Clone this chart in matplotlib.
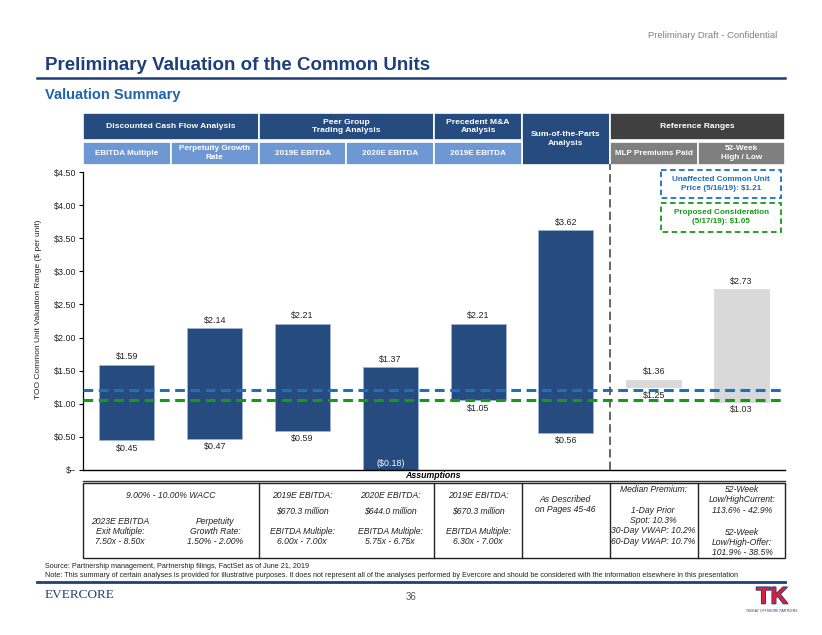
import matplotlib
matplotlib.use("Agg")
import matplotlib.pyplot as plt
import matplotlib.patheffects as pe
from matplotlib.patches import Rectangle

plt.rcParams['font.family'] = ['Liberation Sans', 'DejaVu Sans']
plt.rcParams['lines.scale_dashes'] = False

# data
categories = ['EBITDA Multiple', 'Perpetuity Growth Rate', '2019E EBITDA', '2020E EBITDA',
              '2019E EBITDA (Precedent)', 'Sum-of-the-Parts', 'MLP Premiums Paid', '52-Week High / Low']
lows = [0.45, 0.47, 0.59, -0.18, 1.05, 0.56, 1.25, 1.03]
highs = [1.59, 2.14, 2.21, 1.37, 2.21, 3.62, 1.36, 2.73]
is_reference = [False, False, False, False, False, False, True, True]
unaffected_price = 1.21
proposed_price = 1.05
yticks = [0, 0.5, 1.0, 1.5, 2.0, 2.5, 3.0, 3.5, 4.0, 4.5]

navy = '#264B7F'
light_blue = '#6D98D3'
dark_gray = '#404040'
mid_gray = '#7F7F7F'
blue_line = '#1F6FBF'
green_line = '#169A16'
title_blue = '#1F3F7A'

fig = plt.figure(figsize=(8.22, 6.35), dpi=100)

# page overlay in pixel coordinates
bg = fig.add_axes([0, 0, 1, 1], zorder=0)
bg.set_xlim(0, 822)
bg.set_ylim(635, 0)
bg.axis('off')

AX_L, AX_R, AX_T, AX_B = 83, 785.4, 172, 470
ax = fig.add_axes([AX_L / 822, (635 - AX_B) / 635, (AX_R - AX_L) / 822, (AX_B - AX_T) / 635], zorder=1)
ax.patch.set_alpha(0)
col_w = (AX_R - AX_L) / 8


def edge(i):
    return AX_L + i * col_w


def cell(i0, i1, y0, y1, color, text, ty=None, size=6.1):
    bg.add_patch(Rectangle((edge(i0), y0), edge(i1) - edge(i0), y1 - y0,
                           facecolor=color, edgecolor='white', lw=1.2))
    bg.text((edge(i0) + edge(i1)) / 2, ty if ty else (y0 + y1) / 2, text, color='white',
            fontsize=size, fontweight='bold', ha='center', va='center', linespacing=1.3)


# header
bg.text(777, 35, 'Preliminary Draft - Confidential', fontsize=6.8, color='#808080', ha='right', va='center')
bg.text(45, 70, 'Preliminary Valuation of the Common Units', fontsize=13.5, fontweight='bold',
        color=title_blue, ha='left', va='baseline')
bg.plot([37, 785], [78.3, 78.3], color=title_blue, lw=1.8)
bg.text(45, 99, 'Valuation Summary', fontsize=10.5, fontweight='bold', color='#1E64AA', ha='left', va='baseline')

# top table
r1 = (113, 140)
r2 = (141.5, 165)
cell(0, 2, *r1, navy, 'Discounted Cash Flow Analysis')
cell(2, 4, *r1, navy, 'Peer Group\nTrading Analysis')
cell(4, 5, *r1, navy, 'Precedent M&A\nAnalysis')
cell(5, 6, r1[0], r2[1], navy, 'Sum-of-the-Parts\nAnalysis', ty=138.8)
cell(6, 8, *r1, dark_gray, 'Reference Ranges')
cell(0, 1, *r2, light_blue, 'EBITDA Multiple', size=5.9)
cell(1, 2, *r2, light_blue, 'Perpetuity Growth\nRate', size=5.9)
cell(2, 3, *r2, light_blue, '2019E EBITDA', size=5.9)
cell(3, 4, *r2, light_blue, '2020E EBITDA', size=5.9)
cell(4, 5, *r2, light_blue, '2019E EBITDA', size=5.9)
cell(6, 7, *r2, mid_gray, 'MLP Premiums Paid', size=5.9)
cell(7, 8, *r2, mid_gray, '52-Week\nHigh / Low', size=5.9)

# bars
x = list(range(len(categories)))
bottoms = [max(lo, 0) for lo in lows]
heights = [hi - lo for hi, lo in zip(highs, lows)]
colors = ['#D9D9D9' if r else navy for r in is_reference]
edges = ['#D9D9D9' if r else '#9DB3D6' for r in is_reference]
ax.bar(x, heights, bottom=bottoms, width=0.625, color=colors, edgecolor=edges, linewidth=0.6, zorder=2)


def fmt(v):
    return f'${v:.2f}' if v >= 0 else f'(${-v:.2f})'


for xi, b, h, lo, hi in zip(x, bottoms, heights, lows, highs):
    ax.annotate(fmt(hi), (xi, b + h), xytext=(0, 5.8), textcoords='offset points',
                ha='center', va='center', fontsize=6.4, color='#222222')
    if lo >= 0:
        ax.annotate(fmt(lo), (xi, b), xytext=(0, -5.8), textcoords='offset points',
                    ha='center', va='center', fontsize=6.4, color='#222222')
    else:
        ax.annotate(fmt(lo), (xi, 0), xytext=(0, 4.4), textcoords='offset points',
                    ha='center', va='center', fontsize=6.4, color='white', zorder=5)

ax.axhline(unaffected_price, color=blue_line, lw=2.2, dashes=(7, 4), zorder=3)
ax.axhline(proposed_price, color=green_line, lw=2.2, dashes=(7, 4), zorder=3)
ax.plot([5.5, 5.5], [0, 4.62], color='#595959', lw=1.3, dashes=(6, 3), clip_on=False, zorder=4)

ax.set_xlim(-0.5, 7.5)
ax.set_ylim(0, 4.5)
ax.set_xticks([])
ax.set_yticks(yticks)
ax.set_yticklabels(['$–' if v == 0 else f'${v:.2f}' for v in yticks], fontsize=6.4, color='#222222')
ax.tick_params(axis='y', length=3, width=0.8, pad=2)
for s in ['top', 'right']:
    ax.spines[s].set_visible(False)
ax.spines['left'].set_linewidth(0.9)
ax.spines['bottom'].set_linewidth(1.0)
ax.set_ylabel('TOO Common Unit Valuation Range ($ per unit)', fontsize=6.0, color='#222222')
ax.yaxis.set_label_coords(-0.059, 0.54)

# dashed annotation boxes
bg.add_patch(Rectangle((661, 170), 120, 28, fill=False, edgecolor=blue_line, lw=1.3, linestyle=(0, (4, 2.5))))
bg.text(721, 184, 'Unaffected Common Unit\nPrice (5/16/19): $1.21', color=blue_line, fontsize=5.9,
        fontweight='bold', ha='center', va='center', linespacing=1.4)
bg.add_patch(Rectangle((661, 203), 120, 29, fill=False, edgecolor=green_line, lw=1.3, linestyle=(0, (4, 2.5))))
bg.text(721, 217.3, 'Proposed Consideration\n(5/17/19): $1.05', color=green_line, fontsize=5.9,
        fontweight='bold', ha='center', va='center', linespacing=1.4)

# assumptions table
bg.text(433, 475.5, 'Assumptions', fontsize=6.3, fontweight='bold', fontstyle='italic', ha='center', va='center')
bg.plot([AX_L, AX_R], [480.5, 480.5], color='#333333', lw=1.0)
bg.add_patch(Rectangle((AX_L, 483), AX_R - AX_L, 75, fill=False, edgecolor='#222222', lw=1.0))
for i in [2, 4, 5, 6, 7]:
    bg.plot([edge(i), edge(i)], [483, 558], color='#222222', lw=1.0)


def note(xc, yc, s):
    bg.text(xc, yc, s, fontsize=6.2, fontstyle='italic', color='#222222', ha='center', va='center',
            linespacing=1.16)


note(170.8, 495, '9.00% - 10.00% WACC')
note(120, 531.7, '2023E EBITDA\nExit Multiple:\n7.50x - 8.50x')
note(215, 531.7, 'Perpetuity\nGrowth Rate:\n1.50% - 2.00%')
for xc, yr, amt, mult in [(302, '2019E', '$670.3 million', '6.00x - 7.00x'),
                          (390, '2020E', '$644.0 million', '5.75x - 6.75x'),
                          (478, '2019E', '$670.3 million', '6.30x - 7.00x')]:
    note(xc, 495, f'{yr} EBITDA:')
    note(xc, 510.7, amt)
    note(xc, 536.7, f'EBITDA Multiple:\n{mult}')
note(565, 504.5, 'As Described\non Pages 45-46')
note(653, 489.3, 'Median Premium:')
note(653, 525.9, '1-Day Prior\nSpot: 10.3%\n30-Day VWAP: 10.2%\n60-Day VWAP: 10.7%')
note(742, 500, '52-Week\nLow/HighCurrent:\n113.6% - 42.9%')
note(742, 542.5, '52-Week\nLow/High-Offer:\n101.9% - 38.5%')

# footer
bg.text(45, 567, 'Source: Partnership management, Partnership filings, FactSet as of June 21, 2019',
        fontsize=5.2, ha='left', va='center', color='#222222')
bg.text(45, 575.5, 'Note: This summary of certain analyses is provided for illustrative purposes. It does not '
        'represent all of the analyses performed by Evercore and should be considered with the information '
        'elsewhere in this presentation', fontsize=5.2, ha='left', va='center', color='#222222')
bg.plot([37, 785], [582, 582], color=title_blue, lw=2.0)
bg.text(45, 594.5, 'EVERCORE', fontsize=9.5, family='Liberation Serif', color=title_blue, ha='left', va='center')
bg.text(411, 597, '36', fontsize=7, color='#555555', ha='center', va='center')
bg.text(772, 597, 'TK', fontsize=17, fontweight='bold', color='#D6213F', ha='center', va='center',
        path_effects=[pe.withStroke(linewidth=1.2, foreground='#1F3F7A')])
bg.text(772, 611, 'TEEKAY OFFSHORE PARTNERS', fontsize=2.4, color='#1F3F7A', ha='center', va='center')

fig.savefig('out.png', dpi=100)
